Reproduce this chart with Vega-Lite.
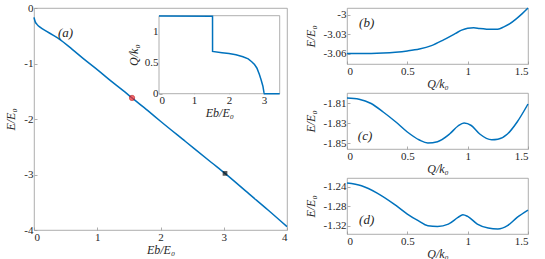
{
  "$schema": "https://vega.github.io/schema/vega-lite/v6.json",
  "padding": {"left": 4, "top": 1, "right": 0, "bottom": 0},
  "background": "white",
  "config": {
    "font": "Liberation Serif",
    "view": {"stroke": "#999999", "strokeWidth": 0.8},
    "axis": {
      "domain": false,
      "grid": false,
      "tickSize": -3,
      "tickColor": "#999999",
      "tickWidth": 0.8,
      "labelFont": "Liberation Serif",
      "labelFontSize": 11,
      "labelColor": "#262626",
      "labelPadding": 4,
      "labelExpr": "datum.value < 0 ? '-' + format(-datum.value, '~g') : format(datum.value, '~g')",
      "titleFont": "Liberation Serif",
      "titleFontSize": 12,
      "titleFontStyle": "italic",
      "titleFontWeight": "normal",
      "titleColor": "#262626"
    },
    "line": {"color": "#0072BD", "strokeWidth": 1.5}
  },
  "datasets": {
    "main": [
      {"eb": 0, "e": -0.17}, {"eb": 0.02, "e": -0.25}, {"eb": 0.05, "e": -0.3}, {"eb": 0.1, "e": -0.35},
      {"eb": 0.2, "e": -0.42}, {"eb": 0.3, "e": -0.49}, {"eb": 0.4, "e": -0.56}, {"eb": 0.6, "e": -0.74},
      {"eb": 0.8, "e": -0.93}, {"eb": 1.0, "e": -1.11}, {"eb": 1.2, "e": -1.3}, {"eb": 1.4, "e": -1.48},
      {"eb": 1.55, "e": -1.62}, {"eb": 1.8, "e": -1.85}, {"eb": 2.0, "e": -2.04}, {"eb": 2.4, "e": -2.41},
      {"eb": 2.8, "e": -2.78}, {"eb": 3.02, "e": -2.98}, {"eb": 3.4, "e": -3.35}, {"eb": 3.7, "e": -3.64},
      {"eb": 4.0, "e": -3.94}
    ],
    "inset": [
      {"eb": 0, "q": 1.25}, {"eb": 1.53, "q": 1.245}, {"eb": 1.531, "q": 0.68}, {"eb": 1.8, "q": 0.66},
      {"eb": 2.0, "q": 0.645}, {"eb": 2.2, "q": 0.625}, {"eb": 2.4, "q": 0.595}, {"eb": 2.55, "q": 0.56},
      {"eb": 2.65, "q": 0.515}, {"eb": 2.73, "q": 0.47}, {"eb": 2.8, "q": 0.41}, {"eb": 2.87, "q": 0.31},
      {"eb": 2.92, "q": 0.22}, {"eb": 2.97, "q": 0.12}, {"eb": 3.0, "q": 0.02}, {"eb": 3.01, "q": 0},
      {"eb": 3.45, "q": 0}
    ],
    "b": [
      {"q": 0, "e": -3.06}, {"q": 0.1, "e": -3.0599}, {"q": 0.2, "e": -3.0597}, {"q": 0.3, "e": -3.059},
      {"q": 0.4, "e": -3.0578}, {"q": 0.5, "e": -3.0559}, {"q": 0.6, "e": -3.053}, {"q": 0.7, "e": -3.0478},
      {"q": 0.8, "e": -3.039}, {"q": 0.9, "e": -3.029}, {"q": 0.95, "e": -3.024}, {"q": 1.0, "e": -3.021},
      {"q": 1.05, "e": -3.0203}, {"q": 1.1, "e": -3.0215}, {"q": 1.2, "e": -3.0228}, {"q": 1.25, "e": -3.0225},
      {"q": 1.3, "e": -3.019}, {"q": 1.35, "e": -3.014}, {"q": 1.4, "e": -3.007}, {"q": 1.45, "e": -2.999},
      {"q": 1.5, "e": -2.99}
    ],
    "c": [
      {"q": 0, "e": -1.805}, {"q": 0.1, "e": -1.8062}, {"q": 0.2, "e": -1.8105}, {"q": 0.3, "e": -1.819},
      {"q": 0.4, "e": -1.8285}, {"q": 0.5, "e": -1.839}, {"q": 0.6, "e": -1.847}, {"q": 0.67, "e": -1.85},
      {"q": 0.75, "e": -1.8487}, {"q": 0.85, "e": -1.841}, {"q": 0.92, "e": -1.833}, {"q": 0.97, "e": -1.83},
      {"q": 1.03, "e": -1.8325}, {"q": 1.1, "e": -1.841}, {"q": 1.2, "e": -1.8467}, {"q": 1.25, "e": -1.8462},
      {"q": 1.33, "e": -1.841}, {"q": 1.41, "e": -1.829}, {"q": 1.5, "e": -1.811}
    ],
    "d": [
      {"q": 0, "e": -1.2325}, {"q": 0.12, "e": -1.238}, {"q": 0.25, "e": -1.253}, {"q": 0.39, "e": -1.2756},
      {"q": 0.5, "e": -1.296}, {"q": 0.59, "e": -1.3097}, {"q": 0.67, "e": -1.32}, {"q": 0.75, "e": -1.3214},
      {"q": 0.84, "e": -1.3166}, {"q": 0.92, "e": -1.303}, {"q": 0.96, "e": -1.2974}, {"q": 1.0, "e": -1.3008},
      {"q": 1.08, "e": -1.3166}, {"q": 1.17, "e": -1.3248}, {"q": 1.25, "e": -1.3268}, {"q": 1.33, "e": -1.32},
      {"q": 1.41, "e": -1.303}, {"q": 1.5, "e": -1.2879}
    ],
    "dots": [
      {"eb": 1.55, "e": -1.62, "kind": "red"},
      {"eb": 3.02, "e": -2.98, "kind": "black"}
    ],
    "labels": [
      {"panel": "a", "x": 0.38, "y": -0.45, "t": "(a)"},
      {"panel": "b", "x": 0.1, "y": -3.0127, "t": "(b)"},
      {"panel": "c", "x": 0.09, "y": -1.8427, "t": "(c)"},
      {"panel": "d", "x": 0.1, "y": -1.3084, "t": "(d)"}
    ],
    "frame": [{"x": 0, "x2": 3.45, "y": 0, "y2": 1.255}]
  },
  "hconcat": [
    {
      "width": 253,
      "height": 222,
      "layer": [
        {
          "layer": [
            {
              "data": {"name": "main"},
              "mark": {"type": "line", "interpolate": "monotone"},
              "encoding": {
                "x": {"field": "eb", "type": "quantitative", "scale": {"domain": [0, 4], "nice": false},
                      "axis": {"values": [0, 1, 2, 3, 4], "tickCount": 20, "title": "Eb/E₀", "titlePadding": 2, "labelOverlap": false}},
                "y": {"field": "e", "type": "quantitative", "scale": {"domain": [-4, 0], "nice": false},
                      "axis": {"values": [0, -1, -2, -3, -4], "tickCount": 20, "title": "E/E₀", "titlePadding": 6, "labelOverlap": false}}
              }
            },
            {
              "data": {"name": "dots"},
              "transform": [{"filter": "datum.kind == 'red'"}],
              "mark": {"type": "point", "shape": "circle", "filled": true, "size": 28, "color": "#ff2a2a", "stroke": "#b00000", "strokeWidth": 0.8},
              "encoding": {"x": {"field": "eb", "type": "quantitative"}, "y": {"field": "e", "type": "quantitative"}}
            },
            {
              "data": {"name": "dots"},
              "transform": [{"filter": "datum.kind == 'black'"}],
              "mark": {"type": "point", "shape": "square", "filled": true, "size": 22, "color": "#111111"},
              "encoding": {"x": {"field": "eb", "type": "quantitative"}, "y": {"field": "e", "type": "quantitative"}}
            },
            {
              "data": {"name": "labels"},
              "transform": [{"filter": "datum.panel == 'a'"}],
              "mark": {"type": "text", "align": "left", "baseline": "middle", "fontSize": 13, "fontStyle": "italic", "font": "Liberation Serif", "color": "#262626"},
              "encoding": {"x": {"field": "x", "type": "quantitative"}, "y": {"field": "y", "type": "quantitative"}, "text": {"field": "t"}}
            }
          ]
        },
        {
          "layer": [
            {
              "data": {"name": "frame"},
              "mark": {"type": "rect", "fill": "white", "stroke": "#999999", "strokeWidth": 0.8},
              "encoding": {
                "x": {"field": "x", "type": "quantitative", "scale": {"domain": [0, 3.45], "nice": false, "range": [125, 245.7]},
                      "axis": {"orient": "bottom", "offset": -136.3, "values": [0, 1, 2, 3], "tickCount": 20, "title": "Eb/E₀", "titlePadding": 2, "labelOverlap": false}},
                "x2": {"field": "x2"},
                "y": {"field": "y", "type": "quantitative", "scale": {"domain": [0, 1.255], "nice": false, "range": [85.7, 7.7]},
                      "axis": {"orient": "left", "offset": -125, "values": [0, 0.5, 1], "tickCount": 20, "title": "Q/k₀", "titlePadding": 4, "labelOverlap": false}},
                "y2": {"field": "y2"}
              }
            },
            {
              "data": {"name": "inset"},
              "mark": {"type": "line"},
              "encoding": {
                "x": {"field": "eb", "type": "quantitative"},
                "y": {"field": "q", "type": "quantitative"}
              }
            }
          ]
        }
      ],
      "resolve": {"scale": {"x": "independent", "y": "independent"}, "axis": {"x": "independent", "y": "independent"}}
    },
    {
      "vconcat": [
        {
          "width": 181,
          "height": 56,
          "layer": [
            {
              "data": {"name": "b"},
              "mark": {"type": "line", "interpolate": "monotone"},
              "encoding": {
                "x": {"field": "q", "type": "quantitative", "scale": {"domain": [0, 1.5], "nice": false},
                      "axis": {"values": [0, 0.5, 1, 1.5], "tickCount": 20, "title": "Q/k₀", "titlePadding": 2, "labelOverlap": false}},
                "y": {"field": "e", "type": "quantitative", "scale": {"domain": [-3.076, -2.99], "nice": false},
                      "axis": {"values": [-3, -3.03, -3.06], "tickCount": 20, "title": "E/E₀", "titlePadding": 6, "labelOverlap": false}}
              }
            },
            {
              "data": {"name": "labels"},
              "transform": [{"filter": "datum.panel == 'b'"}],
              "mark": {"type": "text", "align": "left", "baseline": "middle", "fontSize": 13, "fontStyle": "italic", "font": "Liberation Serif", "color": "#262626"},
              "encoding": {"x": {"field": "x", "type": "quantitative"}, "y": {"field": "y", "type": "quantitative"}, "text": {"field": "t"}}
            }
          ]
        },
        {
          "width": 181,
          "height": 56,
          "layer": [
            {
              "data": {"name": "c"},
              "mark": {"type": "line", "interpolate": "monotone"},
              "encoding": {
                "x": {"field": "q", "type": "quantitative", "scale": {"domain": [0, 1.5], "nice": false},
                      "axis": {"values": [0, 0.5, 1, 1.5], "tickCount": 20, "title": "Q/k₀", "titlePadding": 2, "labelOverlap": false}},
                "y": {"field": "e", "type": "quantitative", "scale": {"domain": [-1.856, -1.8], "nice": false},
                      "axis": {"values": [-1.81, -1.83, -1.85], "tickCount": 20, "title": "E/E₀", "titlePadding": 6, "labelOverlap": false}}
              }
            },
            {
              "data": {"name": "labels"},
              "transform": [{"filter": "datum.panel == 'c'"}],
              "mark": {"type": "text", "align": "left", "baseline": "middle", "fontSize": 13, "fontStyle": "italic", "font": "Liberation Serif", "color": "#262626"},
              "encoding": {"x": {"field": "x", "type": "quantitative"}, "y": {"field": "y", "type": "quantitative"}, "text": {"field": "t"}}
            }
          ]
        },
        {
          "width": 181,
          "height": 56,
          "layer": [
            {
              "data": {"name": "d"},
              "mark": {"type": "line", "interpolate": "monotone"},
              "encoding": {
                "x": {"field": "q", "type": "quantitative", "scale": {"domain": [0, 1.5], "nice": false},
                      "axis": {"values": [0, 0.5, 1, 1.5], "tickCount": 20, "title": "Q/k₀", "titlePadding": 2, "labelOverlap": false}},
                "y": {"field": "e", "type": "quantitative", "scale": {"domain": [-1.337, -1.222], "nice": false},
                      "axis": {"values": [-1.24, -1.28, -1.32], "tickCount": 20, "title": "E/E₀", "titlePadding": 6, "labelOverlap": false}}
              }
            },
            {
              "data": {"name": "labels"},
              "transform": [{"filter": "datum.panel == 'd'"}],
              "mark": {"type": "text", "align": "left", "baseline": "middle", "fontSize": 13, "fontStyle": "italic", "font": "Liberation Serif", "color": "#262626"},
              "encoding": {"x": {"field": "x", "type": "quantitative"}, "y": {"field": "y", "type": "quantitative"}, "text": {"field": "t"}}
            }
          ]
        }
      ],
      "spacing": 29,
      "bounds": "flush"
    }
  ],
  "spacing": 60,
  "bounds": "flush"
}
